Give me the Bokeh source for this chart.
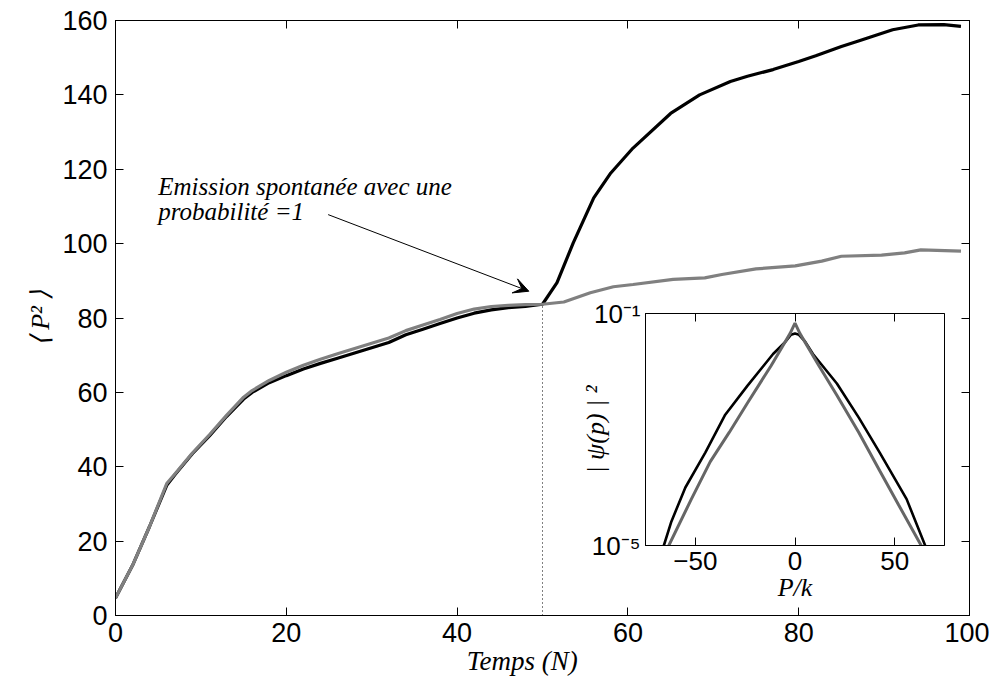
from bokeh.plotting import figure
from bokeh.models import (Range1d, LinearAxis, FixedTicker, Arrow, VeeHead,
                          CustomJSTickFormatter)
from bokeh.layouts import column
from bokeh.embed import file_html
from bokeh.resources import INLINE
from bokeh.core.properties import value

# ---------------- data ----------------
t_black = [0, 2, 4, 6, 7, 9, 11, 13, 15, 16, 18, 20, 22, 24, 26, 28, 30, 32, 34, 36,
           38, 40, 42, 44, 46, 48, 50, 51.7, 53.6, 56, 58, 60.6, 65, 68.4, 72, 74,
           77, 80, 82, 85, 87, 91, 94, 97, 99]
p2_black = [4.7, 13.5, 24, 35, 38, 43.5, 48.3, 53.5, 58.2, 60, 62.6, 64.5, 66.3, 67.8,
            69.2, 70.6, 72, 73.4, 75.5, 77, 78.5, 80, 81.3, 82.2, 82.8, 83.1, 83.7,
            89.5, 100.2, 112.3, 119, 125.7, 135, 140, 143.6, 145, 146.8, 149, 150.5,
            153, 154.5, 157.5, 158.8, 158.9, 158.4]

t_gray = [0, 2, 4, 6, 7, 9, 11, 13, 15, 16, 18, 20, 22, 24, 26, 28, 30, 32, 34, 36,
          38, 40, 42, 44, 46, 48, 50, 52.5, 55.6, 58.3, 60.6, 65.3, 69, 71, 75, 79.6,
          82.7, 85, 89.7, 92.4, 94.3, 99]
p2_gray = [4.7, 13.5, 24, 35.5, 38.2, 43.7, 48.6, 53.8, 58.7, 60.5, 63.2, 65.4, 67.3,
           68.9, 70.4, 71.8, 73.2, 74.6, 76.6, 78.1, 79.6, 81.2, 82.4, 83.1, 83.4, 83.6,
           83.7, 84.3, 86.8, 88.4, 89, 90.4, 90.8, 91.7, 93.2, 94, 95.3, 96.6, 96.9,
           97.5, 98.3, 98]

emission_t = [50, 50]
emission_p2 = [0, 83.7]

x_ticks = [0, 20, 40, 60, 80, 100]
y_ticks = [0, 20, 40, 60, 80, 100, 120, 140, 160]

annotation_lines = ["Emission spontanée avec une", "probabilité =1"]
annotation_x = [5.0, 5.0]
annotation_y = [115.4, 108.7]
arrow_from = (24.9, 107.8)
arrow_to = (48.4, 87.2)

# inset : |psi(p)|^2 versus P/k
pk_black = [-68, -65.8, -62, -55, -45, -35, -24, -11, -5, -2, 0, 2, 5, 9, 21, 32,
            42.5, 56, 65.3, 68]
psi_black = [5e-6, 1e-5, 2.6e-5, 1.0e-4, 4.0e-4, 1.8e-3, 5.6e-3, 2.0e-2, 3.2e-2,
             4.3e-2, 4.5e-2, 4.3e-2, 3.3e-2, 2.0e-2, 6.2e-3, 1.6e-3, 4.0e-4, 6.3e-5,
             1e-5, 6e-6]
pk_gray = [-66, -63.3, -52, -42.5, -33, -24, -12, -2.5, 0, 2.5, 12, 21, 32, 42.5, 52,
           63.3, 66]
psi_gray = [6.3e-6, 1e-5, 6.3e-5, 2.8e-4, 8.9e-4, 2.8e-3, 1.26e-2, 4.5e-2, 6.8e-2,
            4.5e-2, 1.26e-2, 3.9e-3, 8.9e-4, 1.95e-4, 5e-5, 1e-5, 6.3e-6]
inset_x_ticks = [-50, 0, 50]
inset_y_ticks = [1e-5, 1e-1]

# ---------------- main figure ----------------
SANS = "Liberation Sans"
SERIF = "Liberation Serif"

p = figure(width=989, height=678,
           x_range=Range1d(0, 100), y_range=Range1d(0, 160),
           output_backend="svg", toolbar_location=None,
           min_border_left=100, min_border_right=20, min_border_top=20,
           min_border_bottom=62)
p.grid.visible = False
p.outline_line_color = "black"
p.outline_line_width = 1
p.background_fill_color = "white"
p.border_fill_color = "white"


def style_axis(ax, ticks, label_size, show_labels=True):
    ax.ticker = FixedTicker(ticks=ticks)
    ax.major_tick_in = 8
    ax.major_tick_out = 0
    ax.minor_tick_in = 0
    ax.minor_tick_out = 0
    ax.axis_line_color = "black"
    ax.major_tick_line_color = "black"
    ax.major_label_text_font = SANS
    if show_labels:
        ax.major_label_text_font_size = label_size
        ax.major_label_text_color = "black"
    else:
        ax.major_label_text_font_size = "1px"
        ax.major_label_text_color = None
        ax.major_label_standoff = 0


style_axis(p.xaxis[0], x_ticks, "27px")
style_axis(p.yaxis[0], y_ticks, "27px")
p.xaxis.major_label_standoff = 7
p.yaxis.major_label_standoff = 8
p.xaxis.axis_label = "Temps (N)" + "\u00a0" * 6
p.xaxis.axis_label_text_font = SERIF
p.xaxis.axis_label_text_font_style = "italic"
p.xaxis.axis_label_text_font_size = "27px"
p.xaxis.axis_label_text_color = "black"
p.xaxis.axis_label_standoff = 1
p.yaxis.axis_label = "⟨ P² ⟩"
p.yaxis.axis_label_text_font = SERIF
p.yaxis.axis_label_text_font_style = "italic"
p.yaxis.axis_label_text_font_size = "26px"
p.yaxis.axis_label_text_color = "black"
p.yaxis.axis_label_standoff = 4

right_ax = LinearAxis()
style_axis(right_ax, y_ticks, "1px", show_labels=False)
p.add_layout(right_ax, "right")
top_ax = LinearAxis()
style_axis(top_ax, x_ticks, "1px", show_labels=False)
p.add_layout(top_ax, "above")

p.line(emission_t, emission_p2, line_color="black", line_width=1, line_dash="1 3")
p.line(t_black, p2_black, line_color="black", line_width=3.2)
p.line(t_gray, p2_gray, line_color="#808080", line_width=3.2)

p.text(x=annotation_x, y=annotation_y, text=annotation_lines,
       text_font=value(SERIF), text_font_style="italic", text_font_size="25px",
       text_baseline="alphabetic", text_align="left", text_color="black")
p.add_layout(Arrow(end=VeeHead(size=15, fill_color="black", line_color="black"),
                   x_start=arrow_from[0], y_start=arrow_from[1],
                   x_end=arrow_to[0], y_end=arrow_to[1],
                   line_color="black", line_width=1))

# ---------------- inset ----------------
INSET_LEFT_BORDER = 115
ins = figure(frame_width=299, frame_height=232,
             x_range=Range1d(-75, 75), y_range=Range1d(1e-5, 1e-1),
             y_axis_type="log", output_backend="svg", toolbar_location=None,
             min_border_left=INSET_LEFT_BORDER, min_border_right=12,
             min_border_top=15, min_border_bottom=62)
ins.grid.visible = False
ins.outline_line_color = "black"
ins.outline_line_width = 1
ins.background_fill_color = "white"
ins.border_fill_color = None

style_axis(ins.xaxis[0], inset_x_ticks, "26px")
style_axis(ins.yaxis[0], inset_y_ticks, "26px")
ins.xaxis.formatter = CustomJSTickFormatter(
    code='return tick < 0 ? "\\u2212" + Math.abs(tick) : String(tick);')
ins.yaxis.formatter = CustomJSTickFormatter(code="""
const e = Math.round(Math.log10(tick));
const m = {"-": "\\u207B", "0": "\\u2070", "1": "\\u00B9", "2": "\\u00B2", "3": "\\u00B3",
           "4": "\\u2074", "5": "\\u2075", "6": "\\u2076", "7": "\\u2077", "8": "\\u2078", "9": "\\u2079"};
return "10" + String(e).split("").map(c => m[c]).join("");
""")
ins.xaxis.major_label_standoff = 6
ins.yaxis.major_label_standoff = 5
ins.xaxis.axis_label = "P/k"
ins.xaxis.axis_label_text_font = SERIF
ins.xaxis.axis_label_text_font_style = "italic"
ins.xaxis.axis_label_text_font_size = "26px"
ins.xaxis.axis_label_text_color = "black"
ins.xaxis.axis_label_standoff = 0
ins.yaxis.axis_label = "| ψ(p) | ²"
ins.yaxis.axis_label_text_font = SERIF
ins.yaxis.axis_label_text_font_style = "italic"
ins.yaxis.axis_label_text_font_size = "26px"
ins.yaxis.axis_label_text_color = "black"
ins.yaxis.axis_label_standoff = -21

ins_top = LinearAxis()
style_axis(ins_top, inset_x_ticks, "1px", show_labels=False)
ins.add_layout(ins_top, "above")

ins.line(pk_black, psi_black, line_color="black", line_width=2.6)
ins.line(pk_gray, psi_gray, line_color="#666666", line_width=3)

ins.styles = {"position": "absolute", "left": f"{645 - INSET_LEFT_BORDER}px",
              "top": "298px"}

layout = column(p, ins)
open("out.html", "w").write(file_html(layout, INLINE))
